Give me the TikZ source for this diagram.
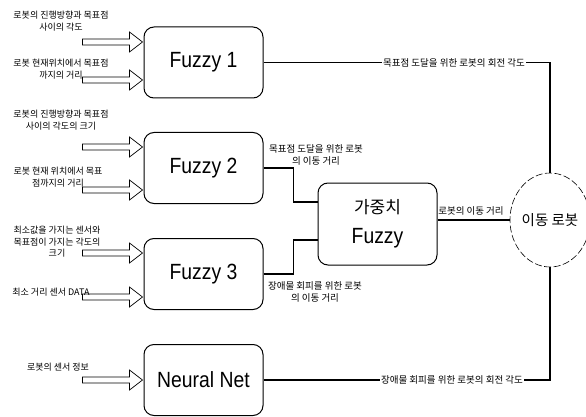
\documentclass[tikz,border=0pt]{standalone}
\usepackage{fontspec}
\setmainfont{Liberation Sans}
\newfontfamily\kr{Noto Sans CJK KR}
\newfontfamily\lat[FakeStretch=0.88]{Liberation Sans}
\usetikzlibrary{calc,shapes.geometric}
\begin{document}
\begin{tikzpicture}[x=1pt,y=-1pt,
  box/.style={draw, line width=1pt, rounded corners=10pt, minimum width=119pt, minimum height=71pt, inner sep=0pt, font=\lat\fontsize{22}{24}\selectfont, align=center},
  lbl/.style={font=\kr\fontsize{9}{11.5}\selectfont, align=center, inner sep=1pt},
  olbl/.style={font=\kr\fontsize{9.5}{12}\selectfont, align=center, inner sep=1pt},
  wire/.style={line width=1.6pt},
  inarrow/.style={draw, line width=0.7pt, fill=white}]
\useasboundingbox (0,0) rectangle (586,417);
% main boxes
\node[box] (f1) at (203.5,62.5) {Fuzzy 1};
\node[box] (f2) at (203.5,168) {Fuzzy 2};
\node[box] (f3) at (203.5,274) {Fuzzy 3};
\node[box] (nn) at (203.5,380) {Neural Net};
\node[box, minimum height=82pt] (gw) at (377.5,224) {{\kr\fontsize{17}{20}\selectfont 가중치}\\[6pt]Fuzzy};
\node[draw, dashed, dash pattern=on 7pt off 2.5pt, line width=0.6pt, ellipse, minimum width=80pt, minimum height=94pt, inner sep=0pt] (robot) at (550,220) {\kr\fontsize{14.5}{17}\selectfont 이동 로봇};
% input arrows
\foreach \b/\o in {f1/-20.5, f1/17.5, f2/-21, f2/22, f3/-21, f3/23, nn/0} {
  \draw[inarrow] ($(\b.west)+(-61,\o-3)$) -- ($(\b.west)+(-14,\o-3)$) -- ($(\b.west)+(-14,\o-10)$) -- ($(\b.west)+(-1,\o)$) -- ($(\b.west)+(-14,\o+10)$) -- ($(\b.west)+(-14,\o+3)$) -- ($(\b.west)+(-61,\o+3)$) -- cycle;
}
% input labels
\node[lbl] (i1) at (61,21) {로봇의 진행방향과 목표점\\사이의 각도};
\node[lbl] (i2) at (61,69) {로봇 현재위치에서 목표점\\까지의 거리};
\node[lbl] (i3) at (61,120) {로봇의 진행방향과 목표점\\사이의 각도의 크기};
\node[lbl] (i4) at (58,177) {로봇 현재 위치에서 목표\\점까지의 거리};
\node[lbl] (i5) at (57,242) {최소값을 가지는 센서와\\목표점이 가지는 각도의\\크기};
\node[lbl] (i6) at (51,292) {최소 거리 센서 DATA};
\node[lbl] (i7) at (58,367) {로봇의 센서 정보};
% output wires
\draw[wire] (f1.east) -| (robot.north);
\draw[wire] (f2.east) -- ++(30,0) |- ($(gw.west)+(0,-22)$);
\draw[wire] (f3.east) -- ++(30,0) |- ($(gw.west)+(0,16)$);
\draw[wire] (gw.east |- robot.west) -- (robot.west);
\draw[wire] (nn.east) -| (robot.south);
% wire labels
\node[olbl, fill=white] (o1) at (454,62.5) {목표점 도달을 위한 로봇의 회전 각도};
\node[olbl] (o2) at (316,155) {목표점 도달을 위한 로봇\\의 이동 거리};
\node[olbl] (o3) at (315,292) {장애물 회피를 위한 로봇\\의 이동 거리};
\node[olbl] (o4) at (471,211) {로봇의 이동 거리};
\node[olbl, fill=white] (o5) at (452,380) {장애물 회피를 위한 로봇의 회전 각도};
\end{tikzpicture}
\end{document}
